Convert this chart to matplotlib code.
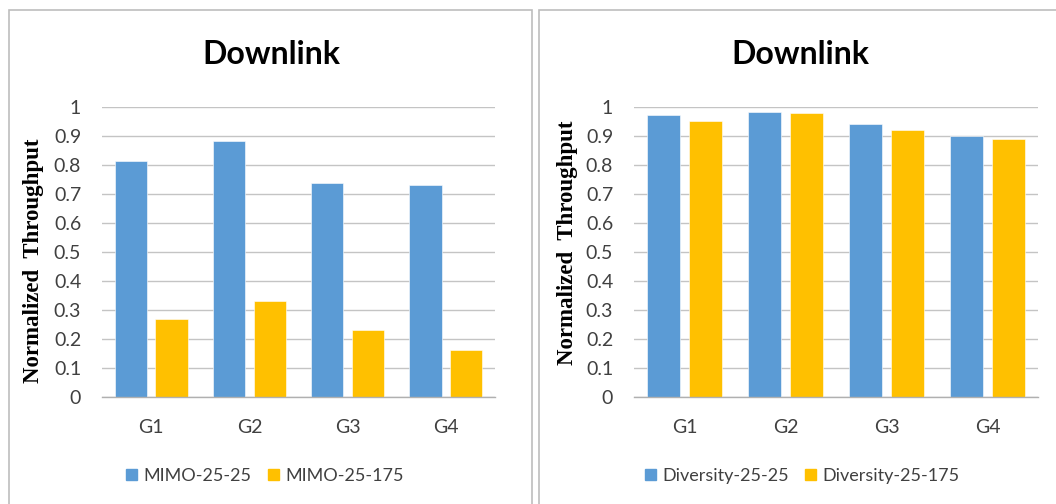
import matplotlib.pyplot as plt
import numpy as np
from matplotlib.patches import Rectangle, Patch

# throughput per group, normalized
groups = ["G1", "G2", "G3", "G4"]
mimo_25_25 = [0.815, 0.883, 0.738, 0.731]
mimo_25_175 = [0.27, 0.33, 0.231, 0.162]
div_25_25 = [0.971, 0.982, 0.940, 0.900]
div_25_175 = [0.952, 0.978, 0.921, 0.891]
yticks = [0, 0.1, 0.2, 0.3, 0.4, 0.5, 0.6, 0.7, 0.8, 0.9, 1]
ytick_labels = ["0", "0.1", "0.2", "0.3", "0.4", "0.5", "0.6", "0.7", "0.8", "0.9", "1"]

BLUE = "#5B9BD5"
GOLD = "#FFC000"
GRID = "#c4c4c4"
SANS = ["Lato", "DejaVu Sans"]
SERIF = ["Liberation Serif", "DejaVu Serif"]

W, H = 1056, 504
fig = plt.figure(figsize=(W / 100, H / 100), dpi=100)


def fx(px):
    return px / W


def fy(py):
    return 1 - py / H


# chart frames
for x0, x1 in [(9, 532), (539, 1070)]:
    fig.add_artist(Rectangle((fx(x0), -0.02), fx(x1 - x0), fy(10) + 0.02,
                             transform=fig.transFigure, fill=False,
                             edgecolor="#bdbdbd", linewidth=1.2))


def draw_panel(rect, s1, s2, names, title_x, ylab_xy, leg_x):
    ax = fig.add_axes(rect)
    x = np.arange(len(groups))
    w = 0.33
    ax.bar(x - 0.207, s1, w, color=BLUE, edgecolor="white", linewidth=0.4, zorder=3)
    ax.bar(x + 0.207, s2, w, color=GOLD, edgecolor="white", linewidth=0.4, zorder=3)
    ax.set_xlim(-0.5, len(groups) - 0.5)
    ax.set_ylim(0, 1)
    ax.set_yticks(yticks)
    ax.set_yticklabels(ytick_labels, family=SANS, fontsize=14)
    ax.set_xticks(x)
    ax.set_xticklabels(groups, family=SANS, fontsize=14)
    ax.tick_params(axis="y", length=0, pad=15, colors="#404040")
    ax.tick_params(axis="x", length=0, pad=16, colors="#404040")
    ax.yaxis.grid(True, color=GRID, linewidth=1.0, zorder=0)
    for s in ["left", "right", "top"]:
        ax.spines[s].set_visible(False)
    ax.spines["bottom"].set_color("#b0b0b0")
    ax.spines["bottom"].set_linewidth(1.0)
    ax.spines["bottom"].set_zorder(4)

    fig.text(fx(title_x), fy(55), "Downlink", family=SANS, fontsize=23,
             fontweight="bold", ha="center", va="center")
    fig.text(fx(ylab_xy[0]), fy(ylab_xy[1]), "Normalized  Throughput",
             family=SERIF, fontsize=16.5, fontweight="bold", rotation=90,
             ha="center", va="center")
    handles = [Patch(color=BLUE, label=names[0]), Patch(color=GOLD, label=names[1])]
    fig.legend(handles=handles, loc="center", bbox_to_anchor=(fx(leg_x), fy(476)),
               ncol=2, frameon=False, prop={"family": SANS, "size": 13},
               handlelength=0.6, handleheight=0.6, handletextpad=0.35,
               columnspacing=0.9, labelcolor="#404040")
    return ax


draw_panel([fx(102), fy(397), fx(393), 290 / H], mimo_25_25, mimo_25_175,
           ["MIMO-25-25", "MIMO-25-175"], 271, (34, 261), 265)
draw_panel([fx(634), fy(397), fx(404), 290 / H], div_25_25, div_25_175,
           ["Diversity-25-25", "Diversity-25-175"], 800, (568, 243), 802)

fig.savefig("out.png", dpi=100)
